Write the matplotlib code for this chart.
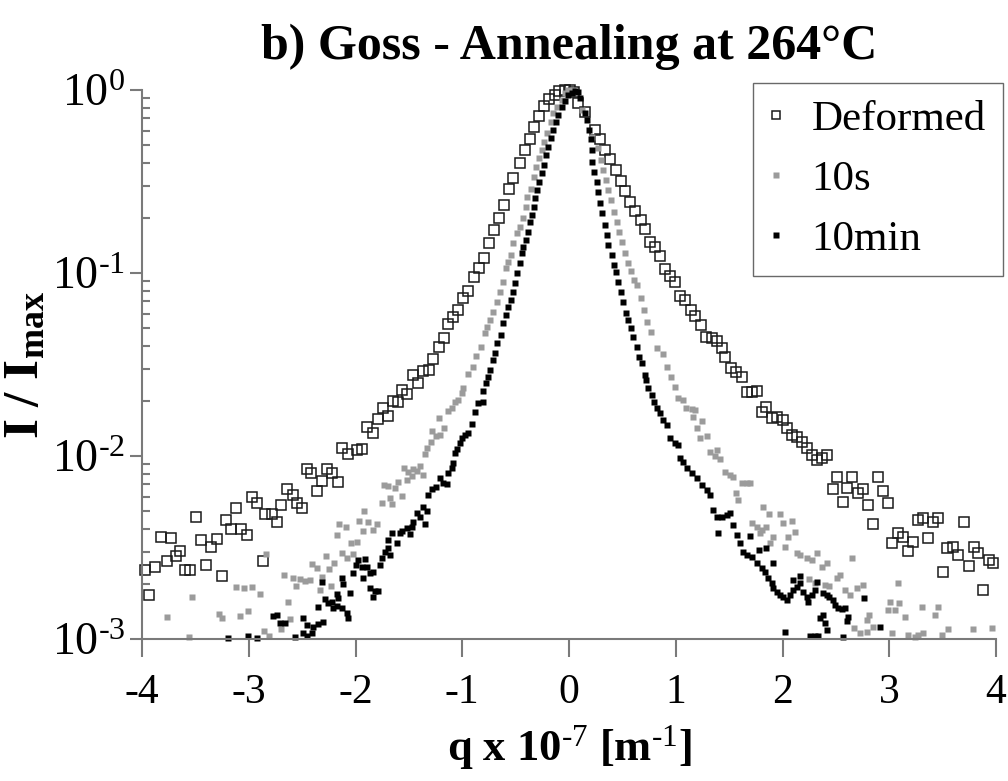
import matplotlib
matplotlib.use("Agg")
import matplotlib.pyplot as plt
from matplotlib.ticker import FixedLocator, FixedFormatter, NullFormatter

plt.rcParams['font.family'] = ['Liberation Serif', 'DejaVu Serif']
plt.rcParams['mathtext.fontset'] = 'custom'
plt.rcParams['mathtext.rm'] = 'Liberation Serif'
plt.rcParams['mathtext.bf'] = 'Liberation Serif:bold'
plt.rcParams['mathtext.it'] = 'Liberation Serif:italic'

# ---------------- data ----------------
labels = ["Deformed", "10s", "10min"]

q_def = [-3.97, -3.93, -3.88, -3.82, -3.77, -3.73, -3.68, -3.64, -3.60, -3.55,
         -3.49, -3.45, -3.40, -3.35, -3.30, -3.25, -3.21, -3.17, -3.12, -3.07,
         -3.02, -2.97, -2.92, -2.87, -2.85, -2.78, -2.74, -2.70, -2.64, -2.59,
         -2.55, -2.50, -2.45, -2.42, -2.36, -2.31, -2.27, -2.22, -2.16, -2.13,
         -2.07, -1.99, -1.94, -1.89, -1.84, -1.79, -1.74, -1.70, -1.65, -1.60,
         -1.56, -1.52, -1.46, -1.41, -1.37, -1.31, -1.27, -1.22, -1.17, -1.13,
         -1.09, -1.04, -0.99, -0.95, -0.89, -0.84, -0.80, -0.75, -0.70, -0.66,
         -0.61, -0.56, -0.52, -0.46, -0.41, -0.37, -0.33, -0.28, -0.23, -0.19,
         -0.13, -0.09, -0.04, 0.01, 0.05, 0.08, 0.15, 0.24, 0.29, 0.34,
         0.38, 0.44, 0.49, 0.52, 0.57, 0.62, 0.67, 0.71, 0.76, 0.81,
         0.85, 0.90, 0.95, 0.99, 1.04, 1.09, 1.14, 1.18, 1.24, 1.28,
         1.34, 1.39, 1.43, 1.46, 1.52, 1.56, 1.62, 1.67, 1.71, 1.76,
         1.81, 1.85, 1.90, 1.95, 2.00, 2.04, 2.09, 2.14, 2.18, 2.23,
         2.28, 2.32, 2.37, 2.42, 2.47, 2.51, 2.57, 2.60, 2.65, 2.71,
         2.75, 2.80, 2.85, 2.89, 2.94, 2.99, 3.03, 3.08, 3.13, 3.18,
         3.22, 3.27, 3.32, 3.36, 3.41, 3.46, 3.50, 3.54, 3.60, 3.64,
         3.70, 3.75, 3.79, 3.83, 3.88, 3.93, 3.97]
i_def = [2.38e-3, 1.74e-3, 2.47e-3, 3.61e-3, 2.67e-3, 3.56e-3, 2.84e-3, 3.03e-3, 2.38e-3, 2.38e-3,
         4.64e-3, 3.48e-3, 2.54e-3, 3.18e-3, 3.52e-3, 2.21e-3, 4.47e-3, 3.99e-3, 5.20e-3, 3.99e-3,
         3.70e-3, 5.97e-3, 5.53e-3, 2.67e-3, 4.82e-3, 4.82e-3, 4.37e-3, 5.40e-3, 6.61e-3, 6.13e-3,
         5.53e-3, 5.20e-3, 8.50e-3, 8.08e-3, 6.44e-3, 7.31e-3, 8.50e-3, 8.08e-3, 7.22e-3, 1.106e-2,
         1.03e-2, 1.08e-2, 1.09e-2, 1.44e-2, 1.34e-2, 1.59e-2, 1.83e-2, 1.65e-2, 2.00e-2, 1.97e-2,
         2.30e-2, 2.18e-2, 2.77e-2, 2.50e-2, 2.92e-2, 2.95e-2, 3.39e-2, 3.95e-2, 4.42e-2, 5.27e-2,
         5.76e-2, 6.28e-2, 7.31e-2, 7.98e-2, 9.51e-2, 0.107, 0.121, 0.146, 0.172, 0.200,
         0.235, 0.288, 0.331, 0.399, 0.470, 0.540, 0.628, 0.722, 0.816, 0.893,
         0.94, 0.99, 1.0, 1.0, 0.98, 0.85, 0.76, 0.604, 0.540, 0.470,
         0.419, 0.366, 0.318, 0.281, 0.244, 0.218, 0.195, 0.174, 0.148, 0.139,
         0.124, 0.105, 9.64e-2, 8.94e-2, 7.49e-2, 7.12e-2, 6.28e-2, 5.83e-2, 5.20e-2, 4.47e-2,
         4.42e-2, 4.25e-2, 3.89e-2, 3.48e-2, 3.03e-2, 2.88e-2, 2.70e-2, 2.24e-2, 2.24e-2, 2.27e-2,
         1.74e-2, 1.85e-2, 1.61e-2, 1.63e-2, 1.57e-2, 1.42e-2, 1.30e-2, 1.27e-2, 1.19e-2, 1.11e-2,
         1.01e-2, 9.5e-3, 9.8e-3, 1.01e-2, 6.61e-3, 7.67e-3, 5.61e-3, 6.69e-3, 7.67e-3, 6.28e-3,
         6.61e-3, 5.40e-3, 4.25e-3, 7.67e-3, 6.44e-3, 5.53e-3, 3.34e-3, 3.80e-3, 3.61e-3, 3.03e-3,
         3.39e-3, 4.47e-3, 4.58e-3, 3.56e-3, 4.37e-3, 4.58e-3, 2.32e-3, 3.14e-3, 3.18e-3, 2.88e-3,
         4.37e-3, 2.50e-3, 3.18e-3, 2.95e-3, 1.85e-3, 2.70e-3, 2.60e-3]

q_10s = [-3.77, -3.56, -3.53, -3.28, -3.25, -3.12, -3.08, -3.04, -3.01, -2.97,
         -2.89, -2.86, -2.84, -2.81, -2.70, -2.67, -2.63, -2.61, -2.59, -2.56,
         -2.52, -2.47, -2.43, -2.41, -2.36, -2.33, -2.31, -2.28, -2.25, -2.23,
         -2.20, -2.17, -2.15, -2.13, -2.09, -2.08, -2.04, -2.02, -1.99, -1.97,
         -1.93, -1.92, -1.88, -1.84, -1.80, -1.75, -1.73, -1.70, -1.68, -1.66,
         -1.63, -1.60, -1.56, -1.55, -1.52, -1.51, -1.47, -1.46, -1.42, -1.40,
         -1.37, -1.35, -1.33, -1.29, -1.28, -1.25, -1.22, -1.21, -1.17, -1.13,
         -1.10, -1.07, -1.04, -1.00, -0.99, -0.95, -0.90, -0.87, -0.82, -0.79,
         -0.77, -0.74, -0.71, -0.67, -0.65, -0.62, -0.59, -0.57, -0.54, -0.52,
         -0.49, -0.46, -0.43, -0.40, -0.39, -0.36, -0.33, -0.31, -0.28, -0.25,
         -0.23, -0.21, -0.17, -0.15, -0.11, -0.07, -0.04, -0.01, 0.04, 0.12,
         0.22, 0.27, 0.30, 0.32, 0.35, 0.37, 0.39, 0.42, 0.45, 0.47,
         0.50, 0.52, 0.55, 0.58, 0.61, 0.64, 0.67, 0.70, 0.73, 0.77,
         0.82, 0.88, 0.92, 0.96, 0.99, 1.02, 1.07, 1.10, 1.15, 1.18,
         1.16, 1.25, 1.20, 1.23, 1.29, 1.32, 1.37, 1.39, 1.41, 1.46,
         1.51, 1.54, 1.56, 1.58, 1.62, 1.67, 1.70, 1.71, 1.76, 1.79,
         1.81, 1.82, 1.85, 1.87, 1.88, 1.91, 1.98, 2.00, 2.02, 2.05,
         2.09, 2.12, 2.14, 2.16, 2.23, 2.25, 2.28, 2.30, 2.32, 2.37,
         2.40, 2.42, 2.44, 2.51, 2.54, 2.59, 2.63, 2.65, 2.67, 2.70,
         2.73, 2.75, 2.79, 2.79, 2.81, 2.85, 2.99, 3.01, 3.03, 3.05,
         3.08, 3.09, 3.15, 3.18, 3.24, 3.27, 3.31, 3.32, 3.43, 3.46,
         3.49, 3.55, 3.78, 3.96]
i_10s = [1.32e-3, 1.03e-3, 1.70e-3, 1.37e-3, 1.30e-3, 1.92e-3, 1.34e-3, 1.90e-3, 1.42e-3, 1.92e-3,
         1.76e-3, 1.11e-3, 2.92e-3, 1.04e-3, 1.13e-3, 2.24e-3, 1.59e-3, 1.29e-3, 2.15e-3, 1.95e-3,
         2.13e-3, 2.07e-3, 2.10e-3, 2.57e-3, 2.44e-3, 1.85e-3, 2.18e-3, 2.84e-3, 2.41e-3, 1.95e-3,
         2.60e-3, 3.70e-3, 4.25e-3, 2.95e-3, 4.09e-3, 2.77e-3, 3.34e-3, 2.92e-3, 3.39e-3, 4.42e-3,
         3.89e-3, 5.00e-3, 4.37e-3, 3.95e-3, 4.25e-3, 5.53e-3, 6.95e-3, 6.87e-3, 5.90e-3, 5.47e-3,
         6.69e-3, 7.22e-3, 6.04e-3, 8.6e-3, 7.40e-3, 8.17e-3, 7.79e-3, 8.50e-3, 8.31e-3, 8.82e-3,
         7.86e-3, 1.03e-2, 1.11e-2, 1.19e-2, 1.37e-2, 1.29e-2, 1.61e-2, 1.30e-2, 1.42e-2, 1.76e-2,
         1.83e-2, 1.97e-2, 2.02e-2, 2.21e-2, 2.35e-2, 2.81e-2, 3.07e-2, 3.52e-2, 3.95e-2, 4.70e-2,
         5.07e-2, 5.53e-2, 6.13e-2, 6.95e-2, 7.88e-2, 8.94e-2, 0.107, 0.115, 0.125, 0.146,
         0.165, 0.178, 0.200, 0.23, 0.26, 0.288, 0.334, 0.380, 0.425, 0.470,
         0.52, 0.583, 0.669, 0.749, 0.81, 0.88, 0.96, 1.0, 1.0, 0.78,
         0.553, 0.482, 0.415, 0.366, 0.322, 0.284, 0.250, 0.215, 0.190, 0.167,
         0.148, 0.129, 0.113, 0.103, 9.16e-2, 8.6e-2, 7.31e-2, 6.28e-2, 5.40e-2, 4.76e-2,
         3.89e-2, 3.61e-2, 3.07e-2, 2.70e-2, 2.38e-2, 2.07e-2, 2.02e-2, 1.83e-2, 1.81e-2, 1.78e-2,
         1.63e-2, 1.55e-2, 1.42e-2, 1.25e-2, 1.29e-2, 1.05e-2, 1.0e-2, 1.08e-2, 9.64e-3, 8.17e-3,
         7.88e-3, 7.67e-3, 6.28e-3, 5.76e-3, 7.12e-3, 7.12e-3, 7.12e-3, 4.30e-3, 4.09e-3, 3.80e-3,
         3.95e-3, 5.27e-3, 4.09e-3, 4.82e-3, 3.34e-3, 3.61e-3, 4.82e-3, 4.30e-3, 3.18e-3, 3.61e-3,
         4.42e-3, 3.84e-3, 2.95e-3, 2.88e-3, 2.77e-3, 2.13e-3, 2.70e-3, 2.02e-3, 2.95e-3, 2.47e-3,
         1.97e-3, 2.60e-3, 1.95e-3, 2.15e-3, 2.24e-3, 1.85e-3, 1.74e-3, 2.77e-3, 1.15e-3, 1.90e-3,
         1.08e-3, 1.97e-3, 1.09e-3, 1.27e-3, 1.35e-3, 1.16e-3, 1.44e-3, 1.59e-3, 1.08e-3, 1.44e-3,
         2.02e-3, 1.57e-3, 1.32e-3, 1.05e-3, 1.03e-3, 1.05e-3, 1.50e-3, 1.08e-3, 1.35e-3, 1.50e-3,
         1.05e-3, 1.13e-3, 1.13e-3, 1.15e-3]

q_10min = [-3.19, -3.01, -2.92, -2.77, -2.74, -2.71, -2.66, -2.57, -2.49, -2.49,
           -2.45, -2.45, -2.41, -2.40, -2.35, -2.35, -2.31, -2.30, -2.29, -2.26,
           -2.22, -2.21, -2.17, -2.17, -2.16, -2.13, -2.13, -2.12, -2.08, -2.07,
           -2.05, -2.02, -2.00, -1.98, -1.94, -1.93, -1.91, -1.89, -1.86, -1.86,
           -1.84, -1.84, -1.82, -1.79, -1.77, -1.75, -1.72, -1.70, -1.70, -1.68,
           -1.66, -1.61, -1.58, -1.56, -1.52, -1.49, -1.47, -1.46, -1.42, -1.40,
           -1.37, -1.35, -1.33, -1.32, -1.28, -1.25, -1.21, -1.18, -1.14, -1.13,
           -1.10, -1.09, -1.07, -1.05, -1.02, -1.00, -0.97, -0.95, -0.91, -0.88,
           -0.85, -0.81, -0.81, -0.78, -0.76, -0.74, -0.71, -0.69, -0.67, -0.64,
           -0.62, -0.59, -0.57, -0.54, -0.52, -0.51, -0.49, -0.46, -0.44, -0.43,
           -0.40, -0.38, -0.37, -0.35, -0.33, -0.32, -0.30, -0.28, -0.25, -0.23,
           -0.22, -0.20, -0.17, -0.15, -0.12, -0.10, -0.07, -0.04, -0.01, 0.03,
           0.06, 0.08, 0.10, 0.15, 0.17, 0.19, 0.21, 0.22, 0.22, 0.23,
           0.26, 0.27, 0.29, 0.31, 0.34, 0.36, 0.37, 0.40, 0.42, 0.44,
           0.46, 0.49, 0.51, 0.53, 0.55, 0.58, 0.60, 0.64, 0.66, 0.68,
           0.71, 0.72, 0.74, 0.78, 0.80, 0.82, 0.85, 0.88, 0.92, 0.95,
           0.99, 1.02, 1.04, 1.07, 1.11, 1.15, 1.20, 1.25, 1.29, 1.32,
           1.35, 1.39, 1.40, 1.43, 1.48, 1.51, 1.54, 1.57, 1.60, 1.63,
           1.67, 1.70, 1.71, 1.76, 1.78, 1.81, 1.84, 1.85, 1.86, 1.90,
           1.91, 1.91, 1.95, 1.98, 2.00, 2.02, 2.04, 2.07, 2.10, 2.10,
           2.14, 2.16, 2.16, 2.19, 2.23, 2.24, 2.26, 2.28, 2.30, 2.30,
           2.32, 2.33, 2.35, 2.38, 2.38, 2.40, 2.42, 2.42, 2.44, 2.47,
           2.49, 2.52, 2.56, 2.57, 2.59, 2.60, 2.61, 2.76, 2.91]
i_10min = [1.01e-3, 1.04e-3, 1.01e-3, 1.34e-3, 1.35e-3, 1.22e-3, 1.22e-3, 1.03e-3, 1.08e-3, 1.30e-3,
           1.04e-3, 1.19e-3, 1.08e-3, 1.16e-3, 1.50e-3, 1.21e-3, 2.05e-3, 1.24e-3, 1.65e-3, 1.57e-3,
           1.59e-3, 1.48e-3, 1.52e-3, 1.76e-3, 1.68e-3, 1.48e-3, 2.15e-3, 2.00e-3, 1.39e-3, 1.30e-3,
           1.78e-3, 2.30e-3, 2.54e-3, 2.70e-3, 2.47e-3, 2.15e-3, 2.74e-3, 2.47e-3, 2.30e-3, 1.90e-3,
           2.32e-3, 1.70e-3, 1.83e-3, 1.83e-3, 2.54e-3, 2.77e-3, 2.99e-3, 3.14e-3, 3.48e-3, 2.88e-3,
           3.80e-3, 3.34e-3, 3.80e-3, 3.89e-3, 4.04e-3, 3.75e-3, 4.09e-3, 4.37e-3, 4.88e-3, 4.64e-3,
           5.27e-3, 4.25e-3, 5.00e-3, 6.13e-3, 6.61e-3, 6.78e-3, 7.58e-3, 7.12e-3, 7.04e-3, 8.08e-3,
           8.6e-3, 9.16e-3, 1.04e-2, 1.09e-2, 1.18e-2, 1.25e-2, 1.30e-2, 1.34e-2, 1.50e-2, 1.74e-2,
           1.95e-2, 1.97e-2, 2.27e-2, 2.50e-2, 2.70e-2, 2.95e-2, 3.34e-2, 3.66e-2, 4.15e-2, 4.58e-2,
           5.33e-2, 5.90e-2, 6.52e-2, 7.12e-2, 7.88e-2, 8.82e-2, 0.100, 0.113, 0.129, 0.139,
           0.152, 0.167, 0.190, 0.208, 0.230, 0.257, 0.284, 0.314, 0.352, 0.389,
           0.442, 0.488, 0.547, 0.604, 0.669, 0.731, 0.81, 0.87, 0.94, 0.96,
           0.99, 0.97, 0.905, 0.749, 0.687, 0.604, 0.540, 0.470, 0.404, 0.356,
           0.314, 0.277, 0.241, 0.213, 0.183, 0.161, 0.142, 0.125, 0.111, 0.101,
           8.94e-2, 7.88e-2, 6.95e-2, 6.04e-2, 5.53e-2, 5.0e-2, 4.47e-2, 3.95e-2, 3.48e-2, 3.22e-2,
           2.77e-2, 2.60e-2, 2.35e-2, 2.15e-2, 1.97e-2, 1.83e-2, 1.72e-2, 1.57e-2, 1.48e-2, 1.25e-2,
           1.18e-2, 1.15e-2, 9.75e-3, 9.28e-3, 8.6e-3, 8.08e-3, 7.58e-3, 6.95e-3, 6.52e-3, 6.13e-3,
           5.07e-3, 4.64e-3, 3.80e-3, 4.64e-3, 4.76e-3, 4.88e-3, 4.20e-3, 3.70e-3, 3.34e-3, 2.99e-3,
           2.88e-3, 3.66e-3, 2.81e-3, 2.60e-3, 3.07e-3, 2.44e-3, 2.32e-3, 3.14e-3, 2.15e-3, 2.02e-3,
           2.60e-3, 1.90e-3, 1.81e-3, 1.74e-3, 1.70e-3, 1.09e-3, 1.63e-3, 1.74e-3, 1.85e-3, 2.10e-3,
           1.92e-3, 2.02e-3, 2.21e-3, 1.81e-3, 1.70e-3, 1.59e-3, 1.04e-3, 1.74e-3, 1.85e-3, 1.04e-3,
           2.05e-3, 1.04e-3, 1.30e-3, 1.78e-3, 1.35e-3, 1.22e-3, 1.74e-3, 1.12e-3, 1.70e-3, 1.63e-3,
           1.53e-3, 1.48e-3, 1.46e-3, 1.03e-3, 1.48e-3, 1.25e-3, 1.32e-3, 1.68e-3, 1.16e-3]

x_ticks = [-4, -3, -2, -1, 0, 1, 2, 3, 4]
x_ticklabels = ["-4", "-3", "-2", "-1", "0", "1", "2", "3", "4"]
y_ticks = [1e-3, 1e-2, 1e-1, 1e0]
y_ticklabels = [r"10$^{\text{-3}}$", r"10$^{\text{-2}}$", r"10$^{\text{-1}}$", r"10$^{\text{0}}$"]
y_minor = [m * 10.0 ** e for e in (-3, -2, -1) for m in range(2, 10)]

title = "b) Goss - Annealing at 264°C"
xlabel = r"q x 10$^{\mathbf{\text{-7}}}$ [m$^{\mathbf{\text{-1}}}$]"
ylabel = r"I / I$_{\mathbf{max}}$"

# ---------------- figure ----------------
fig = plt.figure(figsize=(10.08, 7.81), dpi=100)
ax = fig.add_axes([142 / 1008, 1 - 639 / 781, (996 - 142) / 1008, (639 - 90) / 781])

ax.plot(q_def, i_def, linestyle="none", marker="s", markersize=7.2,
        markerfacecolor="none", markeredgecolor="#1a1a1a", markeredgewidth=1.1,
        label=labels[0], clip_on=False)
ax.plot(q_10s, i_10s, linestyle="none", marker="s", markersize=5.0,
        markerfacecolor="#9b9b9b", markeredgecolor="none", label=labels[1], clip_on=False)
ax.plot(q_10min, i_10min, linestyle="none", marker="s", markersize=5.0,
        markerfacecolor="#000000", markeredgecolor="none", label=labels[2], clip_on=False)

ax.set_yscale("log")
ax.set_xlim(-4, 4)
ax.set_ylim(1e-3, 1)

for s in ("top", "right"):
    ax.spines[s].set_visible(False)
for s in ("left", "bottom"):
    ax.spines[s].set_color("#7a7a7a")
    ax.spines[s].set_linewidth(1.5)

ax.xaxis.set_major_locator(FixedLocator(x_ticks))
ax.xaxis.set_major_formatter(FixedFormatter(x_ticklabels))
ax.yaxis.set_major_locator(FixedLocator(y_ticks))
ax.yaxis.set_major_formatter(FixedFormatter(y_ticklabels))
ax.yaxis.set_minor_locator(FixedLocator(y_minor))
ax.yaxis.set_minor_formatter(NullFormatter())

ax.tick_params(axis="x", which="major", direction="out", length=13, width=1.5,
               color="#7a7a7a", labelsize=30, pad=12)
ax.tick_params(axis="y", which="major", direction="out", length=9, width=1.5,
               color="#7a7a7a", labelsize=33, pad=3)
ax.tick_params(axis="y", which="minor", direction="in", length=5.5, width=1.5,
               color="#7a7a7a")

ax.set_title(title, fontsize=36, fontweight="bold", pad=22)
ax.set_xlabel(xlabel, fontsize=32, fontweight="bold", labelpad=8)
ax.set_ylabel(ylabel, fontsize=37, fontweight="bold", labelpad=2)

leg = fig.legend(loc="upper right", bbox_to_anchor=(1003 / 1008, 1 - 83 / 781),
                 fontsize=31, frameon=True, fancybox=False, markerscale=0.8,
                 handlelength=0.25, handletextpad=0.7, labelspacing=0.48,
                 borderpad=0.4, borderaxespad=0.0)
leg.get_frame().set_edgecolor("#444444")
leg.get_frame().set_linewidth(1.0)

fig.savefig("out.png", dpi=100)
